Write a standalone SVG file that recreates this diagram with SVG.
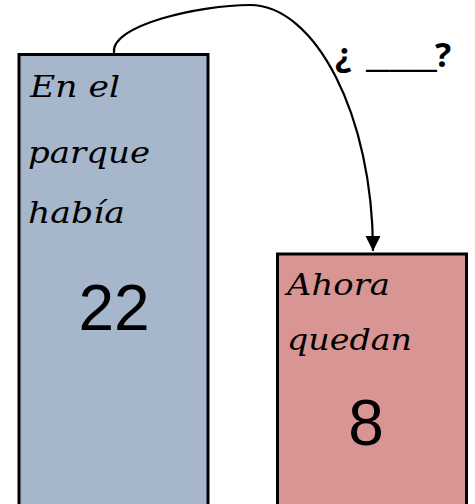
<svg xmlns="http://www.w3.org/2000/svg" width="475" height="504" viewBox="0 0 475 504">
<defs>
<style>
.box{stroke:#000;stroke-width:3}
.cur{font-family:"DejaVu Serif",serif;font-style:italic;font-size:29px;fill:#000}
.num{font-family:"Liberation Sans",Arial,sans-serif;font-size:64px;fill:#000;text-anchor:middle}
.q{font-family:"Open Sans","Liberation Sans",sans-serif;font-weight:bold;font-size:34px;fill:#000}
.conn{fill:none;stroke:#000;stroke-width:2.2}
</style>
<marker id="ah" markerUnits="userSpaceOnUse" markerWidth="16" markerHeight="16" viewBox="0 0 16 16" refX="15" refY="8" orient="auto">
<path d="M0,0.5 L15,8 L0,15.5 Z" fill="#000"/>
</marker>
</defs>
<g id="node-total">
<rect class="box" x="19" y="54.5" width="189" height="460" fill="#a6b6cb"/>
<text class="cur" x="30" y="97" textLength="90" lengthAdjust="spacingAndGlyphs">En el</text>
<text class="cur" x="28" y="163" textLength="122" lengthAdjust="spacingAndGlyphs">parque</text>
<text class="cur" x="28" y="223" textLength="97" lengthAdjust="spacingAndGlyphs">había</text>
<text class="num" x="114" y="330">22</text>
</g>
<g id="node-left">
<rect class="box" x="277.5" y="254" width="189" height="260" fill="#d99594"/>
<text class="cur" x="287" y="295" font-size="31" textLength="103" lengthAdjust="spacingAndGlyphs">Ahora</text>
<text class="cur" x="287" y="350" font-size="31" textLength="125" lengthAdjust="spacingAndGlyphs">quedan</text>
<text class="num" x="366" y="445">8</text>
</g>
<g id="label">
<text class="q" y="67"><tspan x="335">¿ </tspan><tspan x="366" textLength="71" lengthAdjust="spacingAndGlyphs">___</tspan><tspan x="435">?</tspan></text>
</g>
<g id="connectors">
<path class="conn" d="M114,53 C110,25 200,5 250,5 C315,5 373,115 373,251" marker-end="url(#ah)"/>
</g>
</svg>
